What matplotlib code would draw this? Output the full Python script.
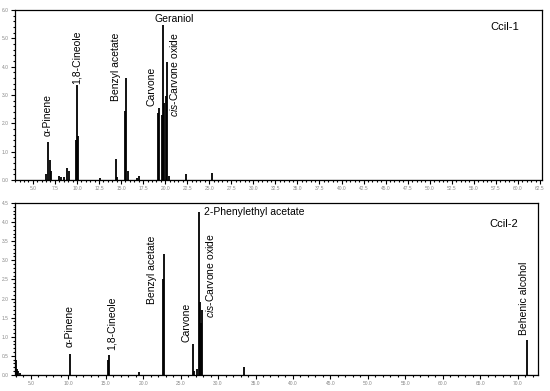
import matplotlib.pyplot as plt
from matplotlib.ticker import MultipleLocator, FormatStrFormatter

plt.rcParams['font.family'] = ['Liberation Sans', 'DejaVu Sans']
plt.rcParams['mathtext.fontset'] = 'custom'
plt.rcParams['mathtext.it'] = 'Liberation Sans:italic'
plt.rcParams['mathtext.rm'] = 'Liberation Sans'

# Ccil-1 peaks: retention time (min), abundance
rt1 = [6.5, 6.73, 6.9, 7.1, 8.0, 8.2, 8.5, 8.9, 9.05, 9.85, 10.02, 10.15, 12.6,
       14.4, 14.55, 15.5, 15.6, 15.75, 16.8, 17.0, 19.16, 19.3, 19.65, 19.76,
       19.9, 20.13, 20.25, 20.45, 22.4, 25.35]
h1 = [0.2, 1.35, 0.7, 0.3, 0.15, 0.1, 0.1, 0.42, 0.3, 1.4, 3.35, 1.55, 0.05,
      0.74, 0.1, 2.44, 3.59, 0.3, 0.08, 0.12, 2.35, 2.53, 2.3, 5.48,
      2.72, 2.95, 4.15, 0.15, 0.2, 0.25]

# Ccil-2 peaks
rt2 = [2.95, 3.0, 3.1, 3.25, 3.5, 10.2, 15.35, 15.45, 19.5, 22.65, 22.8,
       26.65, 26.8, 27.25, 27.4, 27.53, 27.67, 27.84, 33.5, 71.3]
h2 = [0.15, 0.39, 0.15, 0.1, 0.05, 0.55, 0.38, 0.52, 0.08, 2.5, 3.17,
      0.8, 0.1, 0.15, 4.25, 1.92, 1.35, 1.7, 0.2, 0.92]

fig = plt.figure(figsize=(5.5, 3.91), dpi=100)
ax1 = fig.add_axes([0.027, 0.540, 0.958, 0.434])
ax2 = fig.add_axes([0.027, 0.041, 0.951, 0.440])

for ax in (ax1, ax2):
    ax.tick_params(which='both', direction='out', labelsize=3.5, labelcolor='#888888',
                   width=0.8, pad=1.5)
    ax.tick_params(which='major', length=3)
    ax.tick_params(which='minor', length=1.5)
    for s in ax.spines.values():
        s.set_linewidth(0.9)

# top chromatogram
ax1.vlines(rt1, 0, h1, color='black', lw=1.3)
ax1.axhline(0, color='black', lw=0.8)
ax1.set_xlim(2.96, 62.7)
ax1.set_ylim(0, 6.0)
ax1.xaxis.set_major_locator(MultipleLocator(2.5))
ax1.xaxis.set_minor_locator(MultipleLocator(0.5))
ax1.yaxis.set_major_locator(MultipleLocator(1.0))
ax1.yaxis.set_minor_locator(MultipleLocator(0.2))
ax1.xaxis.set_major_formatter(FormatStrFormatter('%.1f'))
ax1.yaxis.set_major_formatter(FormatStrFormatter('%.1f'))
ax1.set_xticks([t for t in ax1.get_xticks() if t >= 5.0 and t <= 62.5])

fs = 7.5
ax1.text(6.73, 1.55, 'α-Pinene', rotation=90, ha='center', va='bottom', fontsize=fs)
ax1.text(10.0, 3.4, '1,8-Cineole', rotation=90, ha='center', va='bottom', fontsize=fs)
ax1.text(14.4, 2.8, 'Benzyl acetate', rotation=90, ha='center', va='bottom', fontsize=fs)
ax1.text(18.4, 2.6, 'Carvone', rotation=90, ha='center', va='bottom', fontsize=fs)
ax1.text(21.0, 5.7, 'Geraniol', ha='center', va='center', fontsize=fs)
ax1.text(20.95, 2.23, '$\\it{cis}$-Carvone oxide', rotation=90, ha='center',
         va='bottom', fontsize=fs)
ax1.text(0.93, 0.9, 'Ccil-1', transform=ax1.transAxes, ha='center', va='center',
         fontsize=fs + 0.5)

# bottom chromatogram
ax2.vlines(rt2, 0, h2, color='black', lw=1.3)
ax2.axhline(0, color='black', lw=0.8)
ax2.set_xlim(2.87, 72.7)
ax2.set_ylim(0, 4.5)
ax2.xaxis.set_major_locator(MultipleLocator(5.0))
ax2.xaxis.set_minor_locator(MultipleLocator(1.0))
ax2.yaxis.set_major_locator(MultipleLocator(0.5))
ax2.yaxis.set_minor_locator(MultipleLocator(0.1))
ax2.xaxis.set_major_formatter(FormatStrFormatter('%.1f'))
ax2.yaxis.set_major_formatter(FormatStrFormatter('%.1f'))
ax2.set_xticks([t for t in ax2.get_xticks() if t >= 5.0 and t <= 70.0])

ax2.text(10.2, 0.72, 'α-Pinene', rotation=90, ha='center', va='bottom', fontsize=fs)
ax2.text(15.75, 0.65, '1,8-Cineole', rotation=90, ha='center', va='bottom', fontsize=fs)
ax2.text(21.15, 1.85, 'Benzyl acetate', rotation=90, ha='center', va='bottom', fontsize=fs)
ax2.text(25.85, 0.85, 'Carvone', rotation=90, ha='center', va='bottom', fontsize=fs)
ax2.text(28.1, 4.25, '2-Phenylethyl acetate', ha='left', va='center', fontsize=fs)
ax2.text(28.9, 1.5, '$\\it{cis}$-Carvone oxide', rotation=90, ha='center',
         va='bottom', fontsize=fs)
ax2.text(70.9, 1.05, 'Behenic alcohol', rotation=90, ha='center', va='bottom', fontsize=fs)
ax2.text(0.935, 0.88, 'Ccil-2', transform=ax2.transAxes, ha='center', va='center',
         fontsize=fs + 0.5)

fig.savefig('out.png', dpi=100)
